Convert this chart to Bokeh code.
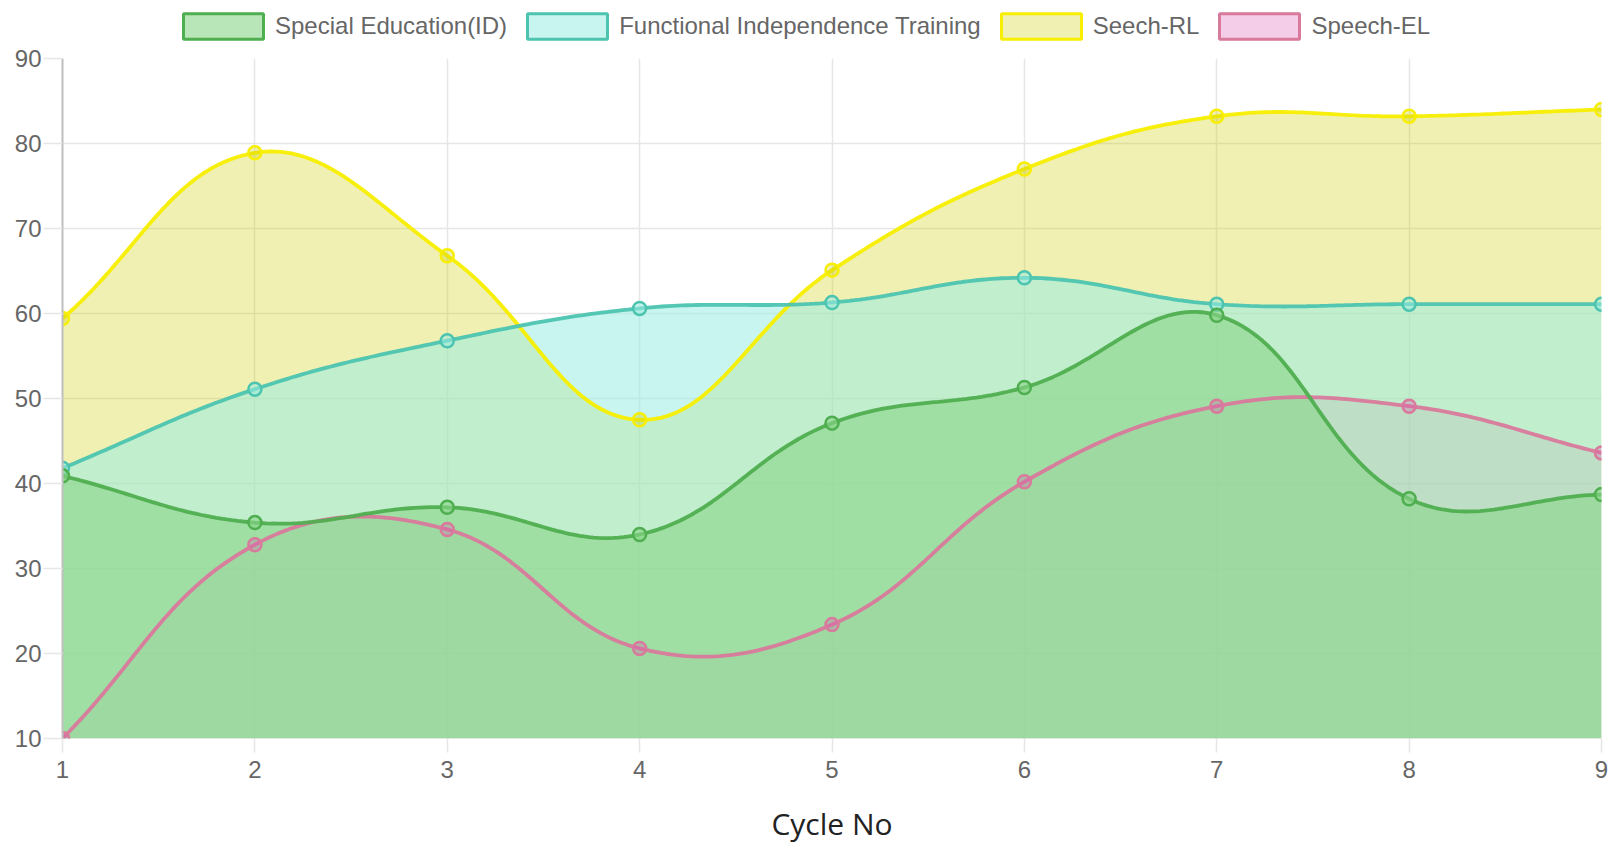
import numpy as np
from bokeh.plotting import figure
from bokeh.layouts import column
from bokeh.models import Range1d, Legend, LegendItem, FixedTicker
from bokeh.embed import file_html
from bokeh.resources import INLINE

# ---- data ----
cycles = [1, 2, 3, 4, 5, 6, 7, 8, 9]
special_ed = [40.9, 35.4, 37.2, 34.0, 47.1, 51.3, 59.8, 38.2, 38.7]
functional = [41.8, 51.1, 56.8, 60.6, 61.3, 64.2, 61.1, 61.1, 61.1]
speech_rl = [59.4, 78.9, 66.8, 47.5, 65.1, 77.0, 83.2, 83.2, 84.0]
speech_el = [10.0, 32.8, 34.6, 20.6, 23.4, 40.2, 49.1, 49.1, 43.6]
series_names = ["Special Education(ID)", "Functional Independence Training", "Seech-RL", "Speech-EL"]
y_ticks = [10, 20, 30, 40, 50, 60, 70, 80, 90]
x_label = "Cycle No"

# ---- styles ----
line_colors = ["#4fae4f", "#4cc4b0", "#f7ee00", "#d9799c"]
fill_colors = ["#89d589", "#9bede2", "#cdcd00", "#dc5ab4"]
fill_alphas = [0.60, 0.55, 0.30, 0.30]

X0, X1, Y0, Y1 = 1, 9, 10, 90
SX, SY = 192.4, 8.49  # px per data unit (for chart.js-like spline)


def spline(xs, ys, t=0.4, steps=40):
    px = np.array(xs, float) * SX
    py = np.array(ys, float) * SY
    n = len(px)
    cp_prev, cp_next = [], []

    def cap(pt):
        return (min(max(pt[0], X0 * SX), X1 * SX), min(max(pt[1], Y0 * SY), Y1 * SY))

    for i in range(n):
        a = max(i - 1, 0)
        b = min(i + 1, n - 1)
        d01 = np.hypot(px[i] - px[a], py[i] - py[a])
        d12 = np.hypot(px[b] - px[i], py[b] - py[i])
        tot = d01 + d12
        s01 = d01 / tot if tot else 0.0
        s12 = d12 / tot if tot else 0.0
        fa, fb = t * s01, t * s12
        cp_prev.append(cap((px[i] - fa * (px[b] - px[a]), py[i] - fa * (py[b] - py[a]))))
        cp_next.append(cap((px[i] + fb * (px[b] - px[a]), py[i] + fb * (py[b] - py[a]))))
    outx, outy = [], []
    tt = np.linspace(0, 1, steps)
    for i in range(n - 1):
        p0 = (px[i], py[i]); p1 = cp_next[i]; p2 = cp_prev[i + 1]; p3 = (px[i + 1], py[i + 1])
        bx = ((1 - tt) ** 3) * p0[0] + 3 * ((1 - tt) ** 2) * tt * p1[0] + 3 * (1 - tt) * tt ** 2 * p2[0] + tt ** 3 * p3[0]
        by = ((1 - tt) ** 3) * p0[1] + 3 * ((1 - tt) ** 2) * tt * p1[1] + 3 * (1 - tt) * tt ** 2 * p2[1] + tt ** 3 * p3[1]
        if i > 0:
            bx, by = bx[1:], by[1:]
        outx.extend(bx / SX); outy.extend(by / SY)
    return np.array(outx), np.array(outy)


data = [special_ed, functional, speech_rl, speech_el]

W, H = 1612, 848
LH = 43  # legend strip height
FRAME_LEFT = 62
p = figure(width=W, height=H - LH, x_range=Range1d(X0, X1), y_range=Range1d(Y0, Y1),
           output_backend="svg", toolbar_location=None,
           min_border_left=FRAME_LEFT, min_border_right=W - 1601, min_border_top=58 - LH,
           min_border_bottom=H - 738)
p.outline_line_color = None
p.background_fill_color = "white"
p.border_fill_color = "white"

grid_col = "#e6e6e6"
p.xgrid.ticker = FixedTicker(ticks=cycles)
p.ygrid.ticker = FixedTicker(ticks=y_ticks)
p.xgrid.grid_line_color = grid_col
p.ygrid.grid_line_color = grid_col
p.xgrid.grid_line_width = 1.5
p.ygrid.grid_line_width = 1.5

p.xaxis.ticker = FixedTicker(ticks=cycles)
p.yaxis.ticker = FixedTicker(ticks=y_ticks)
for ax in (p.xaxis[0], p.yaxis[0]):
    ax.major_label_text_font = "Liberation Sans"
    ax.major_label_text_font_size = "24px"
    ax.major_label_text_color = "#666666"
    ax.minor_tick_line_color = None
    ax.major_tick_in = 0
    ax.major_tick_line_color = grid_col
    ax.major_tick_line_width = 1.5
p.yaxis.major_tick_out = 19
p.yaxis.major_label_standoff = 2
p.yaxis.axis_line_color = "#bfbfbf"
p.yaxis.axis_line_width = 2
p.xaxis.axis_line_color = None
p.xaxis.major_tick_out = 14
p.xaxis.major_label_standoff = 8
p.xaxis.axis_label = x_label
p.xaxis.axis_label_text_font = "Open Sans"
p.xaxis.axis_label_text_font_style = "normal"
p.xaxis.axis_label_text_font_size = "30px"
p.xaxis.axis_label_text_color = "#222222"
p.xaxis.axis_label_standoff = 22

curves = [spline(cycles, d) for d in data]

# fills: last dataset first (chart.js draws dataset 0 on top)
for i in reversed(range(4)):
    cx, cy = curves[i]
    p.varea(x=cx, y1=np.full_like(cy, Y0), y2=cy, fill_color=fill_colors[i], fill_alpha=fill_alphas[i])

for i in reversed(range(4)):
    cx, cy = curves[i]
    p.line(cx, cy, line_color=line_colors[i], line_width=3.8, line_alpha=0.95)
    p.scatter(cycles, data[i], size=13, marker="circle", line_color=line_colors[i], line_width=2.5,
              fill_color=fill_colors[i], fill_alpha=fill_alphas[i])

# ---- legend strip (separate figure so nothing is clipped) ----
lg = figure(width=W, height=LH, x_range=Range1d(0, 1), y_range=Range1d(0, 1),
            output_backend="svg", toolbar_location=None,
            x_axis_location=None, y_axis_location=None,
            min_border_left=0, min_border_right=0, min_border_top=0, min_border_bottom=0)
lg.outline_line_color = None
lg.xgrid.visible = False
lg.ygrid.visible = False

items = []
for i in range(4):
    # swatch-only renderer, its single box lies outside the strip's visible range
    r = lg.quad(left=[2], right=[3], top=[3], bottom=[2], fill_color=fill_colors[i], fill_alpha=fill_alphas[i],
                line_color=line_colors[i], line_width=3)
    items.append(LegendItem(label=series_names[i], renderers=[r]))

# bokeh insets area swatches by 10% on each side: 100x32 slot -> ~80x26 box
legend = Legend(items=items, orientation="horizontal", location=(173 - FRAME_LEFT, 1),
                glyph_width=100, glyph_height=32, label_standoff=2, spacing=10,
                padding=0, margin=0, border_line_alpha=0, background_fill_alpha=0,
                label_text_font="Liberation Sans", label_text_font_size="24px",
                label_text_color="#666666", label_height=26)
lg.add_layout(legend, "center")

layout = column(lg, p, spacing=0)
open("out.html", "w").write(file_html(layout, INLINE))
